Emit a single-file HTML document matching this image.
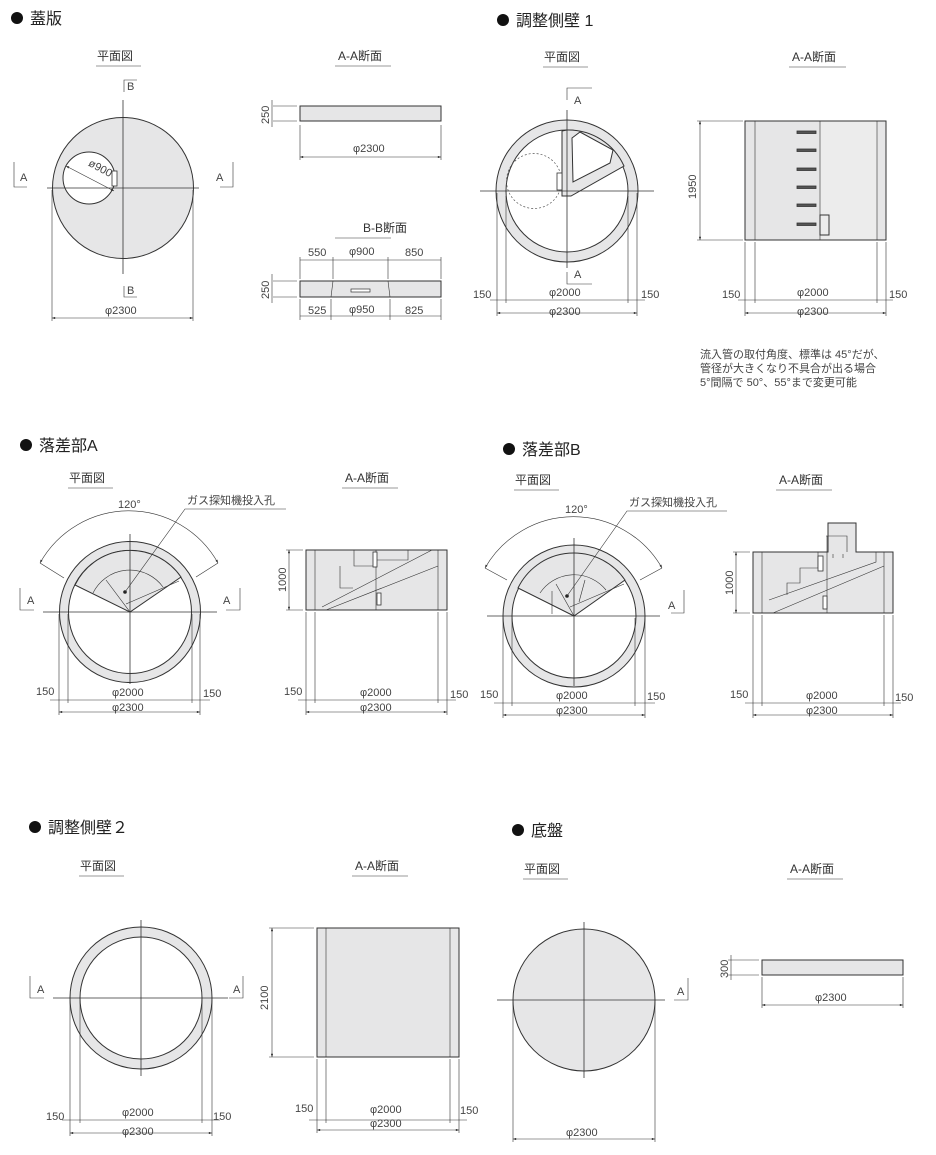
<!DOCTYPE html><html><head><meta charset="utf-8"><style>
html,body{margin:0;padding:0;background:#fff}
svg{display:block}
text{font-family:"Liberation Sans","Noto Sans CJK JP",sans-serif;fill:#444;font-size:11px}
.t{font-size:16px;fill:#222}
.s{font-size:12px;fill:#333}
.g{fill:#e6e6e7;stroke:#333;stroke-width:1}
.l{stroke:#333;stroke-width:.8;fill:none}
.d{stroke:#333;stroke-width:.6;fill:none}
</style></head><body>
<svg width="936" height="1155" viewBox="0 0 936 1155" xmlns="http://www.w3.org/2000/svg">
<defs>
<marker id="a" viewBox="0 0 8 6" refX="8" refY="3" markerWidth="7" markerHeight="4" orient="auto-start-reverse"><path d="M0,0L8,3L0,6z" fill="#333"/></marker>
</defs>
<g id="titles">
<circle cx="17" cy="18" r="6" fill="#111"/><text class="t" x="30" y="24">蓋版</text>
<circle cx="503" cy="20" r="6" fill="#111"/><text class="t" x="516" y="26">調整側壁 1</text>
<circle cx="26" cy="445" r="6" fill="#111"/><text class="t" x="39" y="451">落差部A</text>
<circle cx="509" cy="449" r="6" fill="#111"/><text class="t" x="522" y="455">落差部B</text>
<circle cx="35" cy="827" r="6" fill="#111"/><text class="t" x="48" y="833">調整側壁２</text>
<circle cx="518" cy="830" r="6" fill="#111"/><text class="t" x="531" y="836">底盤</text>
</g>
<g>
<text class="s" x="97" y="60">平面図</text><line class="d" x1="96" y1="66" x2="141" y2="66"/>
<text class="s" x="338" y="60">A-A断面</text><line class="d" x1="335" y1="66" x2="391" y2="66"/>
<text class="s" x="544" y="61">平面図</text><line class="d" x1="543" y1="67" x2="588" y2="67"/>
<text class="s" x="792" y="61">A-A断面</text><line class="d" x1="789" y1="67" x2="846" y2="67"/>
<text class="s" x="69" y="482">平面図</text><line class="d" x1="68" y1="488" x2="113" y2="488"/>
<text class="s" x="345" y="482">A-A断面</text><line class="d" x1="342" y1="488" x2="398" y2="488"/>
<text class="s" x="515" y="484">平面図</text><line class="d" x1="514" y1="490" x2="559" y2="490"/>
<text class="s" x="779" y="484">A-A断面</text><line class="d" x1="776" y1="490" x2="832" y2="490"/>
<text class="s" x="80" y="870">平面図</text><line class="d" x1="79" y1="876" x2="124" y2="876"/>
<text class="s" x="355" y="870">A-A断面</text><line class="d" x1="352" y1="876" x2="408" y2="876"/>
<text class="s" x="524" y="873">平面図</text><line class="d" x1="523" y1="879" x2="568" y2="879"/>
<text class="s" x="790" y="873">A-A断面</text><line class="d" x1="787" y1="879" x2="843" y2="879"/>
<text class="s" x="363" y="232">B-B断面</text><line class="d" x1="335" y1="238" x2="391" y2="238"/>
</g>

<circle class="g" cx="123" cy="188" r="70.5"/>
<circle cx="89" cy="178" r="26" fill="#fff" stroke="#333"/>
<line class="l" x1="123" y1="100" x2="123" y2="274"/>
<line class="l" x1="47" y1="188" x2="199" y2="188"/>
<line class="d" x1="66" y1="166" x2="114" y2="191" marker-start="url(#a)" marker-end="url(#a)"/>
<text x="86" y="168" transform="rotate(28 92 170)" font-size="11">ø900</text>
<rect x="112" y="171" width="5" height="15" fill="#fff" stroke="#333" stroke-width=".8"/>
<path class="d" d="M124,92V80H137"/><text x="127" y="90">B</text>
<path class="d" d="M124,286V297H137"/><text x="127" y="294">B</text>
<path class="d" d="M14,162V187H27"/><text x="20" y="181">A</text>
<path class="d" d="M233,162V187H220"/><text x="216" y="181">A</text>
<line class="d" x1="52" y1="190" x2="52" y2="321"/><line class="d" x1="193" y1="190" x2="193" y2="321"/>
<line class="d" x1="52" y1="318" x2="193" y2="318" marker-start="url(#a)" marker-end="url(#a)"/>
<text x="105" y="314">φ2300</text>

<rect class="g" x="300" y="106" width="141" height="15"/>
<line class="d" x1="273" y1="106" x2="297" y2="106"/><line class="d" x1="273" y1="121" x2="297" y2="121"/>
<line class="d" x1="272" y1="100" x2="272" y2="127"/>
<text x="0" y="0" transform="translate(269,124) rotate(-90)">250</text>
<line class="d" x1="300" y1="125" x2="300" y2="160"/><line class="d" x1="441" y1="125" x2="441" y2="160"/>
<line class="d" x1="300" y1="157" x2="441" y2="157" marker-start="url(#a)" marker-end="url(#a)"/>
<text x="353" y="152">φ2300</text>

<path class="g" d="M300,281H441V297H300Z"/>
<path class="d" d="M333,281L331,297M388,281L390,297"/>
<rect x="351" y="289" width="19" height="3" fill="#fff" stroke="#333" stroke-width=".7"/>
<line class="d" x1="273" y1="281" x2="297" y2="281"/><line class="d" x1="273" y1="297" x2="297" y2="297"/>
<line class="d" x1="272" y1="274" x2="272" y2="303"/>
<text transform="translate(269,299) rotate(-90)">250</text>
<path class="d" d="M300,257V279M333,257V279M388,257V279M441,257V279M300,299V320M331,299V320M390,299V320M441,299V320"/>
<line class="d" x1="300" y1="260" x2="441" y2="260"/>
<line class="d" x1="300" y1="316" x2="441" y2="316"/>
<text x="308" y="256">550</text><text x="349" y="255">φ900</text><text x="405" y="256">850</text>
<text x="308" y="314">525</text><text x="349" y="313">φ950</text><text x="405" y="314">825</text>

<circle class="g" cx="567" cy="191" r="71"/>
<circle cx="567" cy="191" r="61" fill="#fff" stroke="#333"/>
<path class="g" d="M562,131V196H571L624,166A61,61 0 0 0 567,130Z"/>
<path d="M572,138L580,132L613,150L610,163L573,182Z" fill="#fff" stroke="#333"/>
<circle cx="534" cy="181" r="27.5" fill="none" stroke="#555" stroke-dasharray="2,2" stroke-width=".7"/>
<rect x="557" y="173" width="5" height="17" fill="#fff" stroke="#333" stroke-width=".8"/>
<line class="l" x1="567" y1="110" x2="567" y2="268"/>
<line class="l" x1="480" y1="191" x2="654" y2="191"/>
<path class="d" d="M567,100V88H592"/><text x="574" y="104">A</text>
<path class="d" d="M567,272V284H592"/><text x="574" y="278">A</text>
<path class="d" d="M497,193V316M637,193V316M506,196V303M628,196V303"/>
<line class="d" x1="490" y1="300" x2="645" y2="300"/>
<line class="d" x1="497" y1="313" x2="637" y2="313" marker-start="url(#a)" marker-end="url(#a)"/>
<text x="473" y="298">150</text><text x="641" y="298">150</text>
<text x="549" y="296">φ2000</text><text x="549" y="315">φ2300</text>

<rect class="g" x="745" y="121" width="141" height="119"/>
<rect x="820" y="121" width="57" height="119" fill="#ececec"/>
<rect x="745" y="121" width="141" height="119" fill="none" stroke="#333"/>
<path class="d" d="M755,121V240M877,121V240M820,121V240"/>
<g fill="#555" stroke="#333" stroke-width=".8">
<rect x="797" y="131" width="19" height="2.5"/><rect x="797" y="149" width="19" height="2.5"/><rect x="797" y="168" width="19" height="2.5"/><rect x="797" y="186" width="19" height="2.5"/><rect x="797" y="204" width="19" height="2.5"/><rect x="797" y="223" width="19" height="2.5"/></g>
<rect x="820" y="215" width="9" height="20" fill="none" stroke="#333" stroke-width="1"/>
<line class="d" x1="697" y1="121" x2="743" y2="121"/><line class="d" x1="697" y1="240" x2="743" y2="240"/>
<line class="d" x1="700" y1="121" x2="700" y2="240" marker-start="url(#a)" marker-end="url(#a)"/>
<text transform="translate(696,199) rotate(-90)">1950</text>
<path class="d" d="M745,242V316M755,242V303M877,242V303M886,242V316"/>
<line class="d" x1="738" y1="300" x2="893" y2="300"/>
<line class="d" x1="745" y1="313" x2="886" y2="313" marker-start="url(#a)" marker-end="url(#a)"/>
<text x="722" y="298">150</text><text x="889" y="298">150</text>
<text x="797" y="296">φ2000</text><text x="797" y="315">φ2300</text>
<text x="700" y="358">流入管の取付角度、標準は 45°だが、</text>
<text x="700" y="372">管径が大きくなり不具合が出る場合</text>
<text x="700" y="386">5°間隔で 50°、55°まで変更可能</text>

<circle class="g" cx="130" cy="612" r="70.5"/>
<circle cx="130" cy="612" r="61.5" fill="#fff" stroke="#333"/>
<path class="g" d="M130,612L75,585A61.5,61.5 0 0 1 181,577Z"/>
<path class="d" d="M93,593A41,41 0 0 1 163,587M130,612L106,580M126,604L179,581"/>
<circle cx="125" cy="592" r="1.8" fill="#222"/>
<line class="l" x1="130" y1="534" x2="130" y2="684"/>
<line class="l" x1="43" y1="612" x2="217" y2="612"/>
<path class="d" d="M40,563A102,102 0 0 1 218,563" marker-start="url(#a)" marker-end="url(#a)"/>
<path class="d" d="M40,563L64,578M218,563L196,577"/>
<text x="118" y="508">120°</text>
<path class="d" d="M125,592L185,509H286"/><text x="187" y="504" font-size="12">ガス探知機投入孔</text>
<path class="d" d="M20,588V610H34"/><text x="27" y="604">A</text>
<path class="d" d="M240,588V610H226"/><text x="223" y="604">A</text>
<path class="d" d="M59,614V715M200,614V715M68,614V703M192,614V703"/>
<line class="d" x1="50" y1="700" x2="210" y2="700"/>
<line class="d" x1="59" y1="712" x2="200" y2="712" marker-start="url(#a)" marker-end="url(#a)"/>
<text x="36" y="695">150</text><text x="203" y="697">150</text>
<text x="112" y="696">φ2000</text><text x="112" y="711">φ2300</text>

<rect class="g" x="306" y="550" width="141" height="60"/>
<path class="d" d="M315,550V610M438,550V610M354,550V566H376M340,566V588H353M376,566V560H408V550M322,607L432,550M326,610L438,566M376,550V610"/>
<rect x="373" y="552" width="4" height="15" fill="#fff" stroke="#333" stroke-width=".8"/>
<rect x="377" y="593" width="4" height="12" fill="#fff" stroke="#333" stroke-width=".8"/>
<line class="d" x1="286" y1="550" x2="303" y2="550"/><line class="d" x1="286" y1="610" x2="303" y2="610"/>
<line class="d" x1="289" y1="550" x2="289" y2="610" marker-start="url(#a)" marker-end="url(#a)"/>
<text transform="translate(286,592) rotate(-90)">1000</text>
<path class="d" d="M306,612V715M315,612V703M438,612V703M447,612V715"/>
<line class="d" x1="298" y1="700" x2="456" y2="700"/>
<line class="d" x1="306" y1="712" x2="447" y2="712" marker-start="url(#a)" marker-end="url(#a)"/>
<text x="284" y="695">150</text><text x="450" y="698">150</text>
<text x="360" y="696">φ2000</text><text x="360" y="711">φ2300</text>

<circle class="g" cx="574" cy="616" r="71"/>
<circle cx="574" cy="616" r="62" fill="#fff" stroke="#333"/>
<path class="g" d="M574,616L518,588A62,62 0 0 1 625,580Z"/>
<path class="d" d="M540,593A41,41 0 0 1 606,590M574,616L556,584M570,607L624,584M552,614V591M585,580L579,602"/>
<circle cx="567" cy="596" r="1.8" fill="#222"/>
<line class="l" x1="574" y1="538" x2="574" y2="686"/>
<line class="l" x1="487" y1="616" x2="660" y2="616"/>
<path class="d" d="M485,568A102,102 0 0 1 662,568" marker-start="url(#a)" marker-end="url(#a)"/>
<path class="d" d="M485,568L507,580M662,568L640,580"/>
<text x="565" y="513">120°</text>
<path class="d" d="M567,596L627,511H727"/><text x="629" y="506" font-size="12">ガス探知機投入孔</text>
<path class="d" d="M684,590V613H671"/><text x="668" y="609">A</text>
<path class="d" d="M503,618V718M645,618V718M512,618V706M635,618V706"/>
<line class="d" x1="494" y1="703" x2="655" y2="703"/>
<line class="d" x1="503" y1="715" x2="645" y2="715" marker-start="url(#a)" marker-end="url(#a)"/>
<text x="480" y="698">150</text><text x="647" y="700">150</text>
<text x="556" y="699">φ2000</text><text x="556" y="714">φ2300</text>

<path class="g" d="M753,552H828V523H856V552H893V613H753Z"/>
<path class="d" d="M762,552V613M884,552V613M826,536H847V552M828,536V523M818,552V568H800V583H787V595M876,552V562L769,600M884,566L773,613M827,536V613"/>
<rect x="818" y="556" width="5" height="15" fill="#fff" stroke="#333" stroke-width=".8"/>
<rect x="823" y="596" width="4" height="13" fill="#fff" stroke="#333" stroke-width=".8"/>
<path class="d" d="M833,554V558M843,554V558"/>
<line class="d" x1="733" y1="552" x2="750" y2="552"/><line class="d" x1="733" y1="613" x2="750" y2="613"/>
<line class="d" x1="736" y1="552" x2="736" y2="613" marker-start="url(#a)" marker-end="url(#a)"/>
<text transform="translate(733,595) rotate(-90)">1000</text>
<path class="d" d="M753,615V718M762,615V706M884,615V706M893,615V718"/>
<line class="d" x1="745" y1="703" x2="901" y2="703"/>
<line class="d" x1="753" y1="715" x2="893" y2="715" marker-start="url(#a)" marker-end="url(#a)"/>
<text x="730" y="698">150</text><text x="895" y="701">150</text>
<text x="806" y="699">φ2000</text><text x="806" y="714">φ2300</text>

<circle class="g" cx="141" cy="998" r="71"/>
<circle cx="141" cy="998" r="61" fill="#fff" stroke="#333"/>
<line class="l" x1="141" y1="920" x2="141" y2="1076"/>
<line class="l" x1="53" y1="998" x2="228" y2="998"/>
<path class="d" d="M30,976V998H44"/><text x="37" y="993">A</text>
<path class="d" d="M243,976V998H229"/><text x="233" y="993">A</text>
<path class="d" d="M70,1000V1136M212,1000V1136M80,1000V1123M202,1000V1123"/>
<line class="d" x1="62" y1="1120" x2="220" y2="1120"/>
<line class="d" x1="70" y1="1133" x2="212" y2="1133" marker-start="url(#a)" marker-end="url(#a)"/>
<text x="46" y="1120">150</text><text x="213" y="1120">150</text>
<text x="122" y="1116">φ2000</text><text x="122" y="1135">φ2300</text>

<rect class="g" x="317" y="928" width="142" height="129"/>
<path class="d" d="M326,928V1057M450,928V1057"/>
<line class="d" x1="269" y1="928" x2="314" y2="928"/><line class="d" x1="269" y1="1057" x2="314" y2="1057"/>
<line class="d" x1="272" y1="928" x2="272" y2="1057" marker-start="url(#a)" marker-end="url(#a)"/>
<text transform="translate(268,1010) rotate(-90)">2100</text>
<path class="d" d="M317,1059V1133M326,1059V1123M450,1059V1123M459,1059V1133"/>
<line class="d" x1="309" y1="1120" x2="467" y2="1120"/>
<line class="d" x1="317" y1="1130" x2="459" y2="1130" marker-start="url(#a)" marker-end="url(#a)"/>
<text x="295" y="1112">150</text><text x="460" y="1114">150</text>
<text x="370" y="1113">φ2000</text><text x="370" y="1127">φ2300</text>

<circle class="g" cx="584" cy="1000" r="71"/>
<line class="l" x1="584" y1="922" x2="584" y2="1078"/>
<line class="l" x1="497" y1="1000" x2="665" y2="1000"/>
<path class="d" d="M688,978V1000H674"/><text x="677" y="995">A</text>
<path class="d" d="M513,1002V1142M655,1002V1142"/>
<line class="d" x1="513" y1="1139" x2="655" y2="1139" marker-start="url(#a)" marker-end="url(#a)"/>
<text x="566" y="1136">φ2300</text>

<rect class="g" x="762" y="960" width="141" height="15"/>
<line class="d" x1="728" y1="960" x2="759" y2="960"/><line class="d" x1="728" y1="975" x2="759" y2="975"/>
<line class="d" x1="731" y1="955" x2="731" y2="980"/>
<text transform="translate(728,978) rotate(-90)">300</text>
<path class="d" d="M762,977V1008M903,977V1008"/>
<line class="d" x1="762" y1="1005" x2="903" y2="1005" marker-start="url(#a)" marker-end="url(#a)"/>
<text x="815" y="1001">φ2300</text>
</svg>
</body></html>
